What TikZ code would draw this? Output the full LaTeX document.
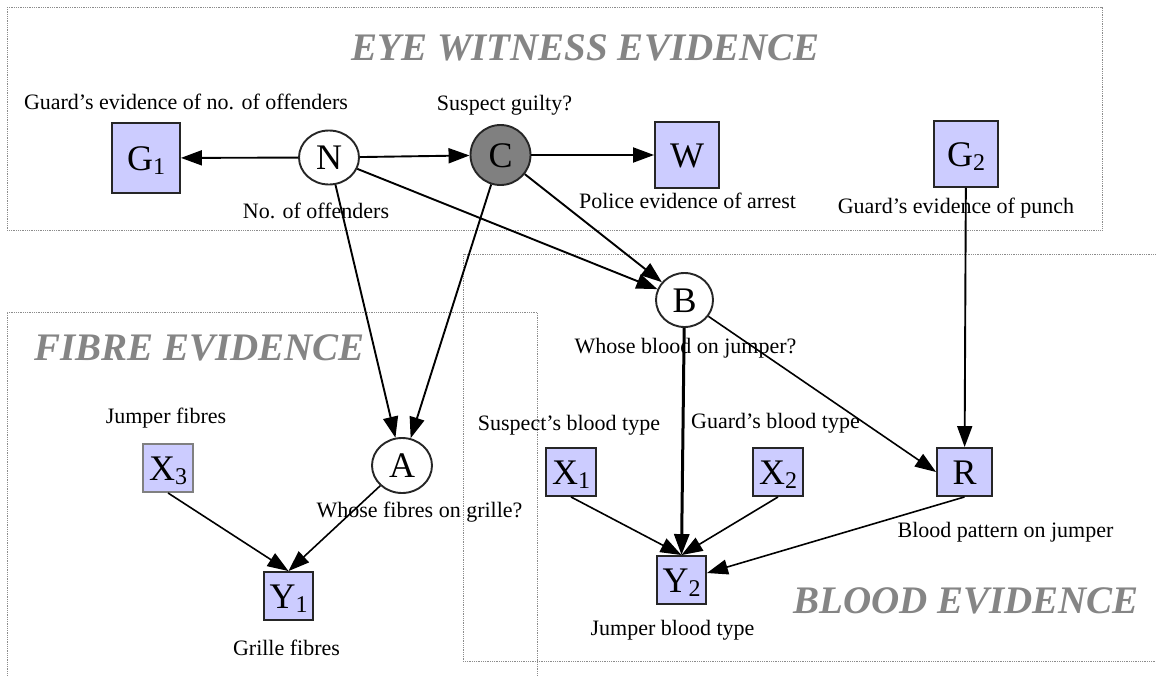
\documentclass[tikz,border=0pt]{standalone}
\usepackage{fontspec}
\setmainfont{Liberation Serif}
\usetikzlibrary{arrows.meta,shapes.geometric}

\definecolor{obsfill}{HTML}{CCCCFF}
\definecolor{cgray}{HTML}{808080}
\definecolor{titlegray}{HTML}{858585}
\definecolor{framegray}{HTML}{8C8C8C}

% lowered, smaller index after a node letter
\newcommand\lowsub[1]{\raisebox{-4pt}{\fontsize{24}{24}\selectfont #1}}

\tikzset{
  lbl/.style={anchor=base, inner sep=0pt, font=\fontsize{22}{26}\selectfont},
  grouptitle/.style={anchor=base, inner sep=0pt, text=titlegray,
    font=\fontsize{39}{44}\selectfont\bfseries\itshape},
  frame/.style={draw=framegray, densely dotted, line width=0.8pt},
  var/.style={inner sep=0pt, line width=1.9pt, draw=black!85,
    font=\fontsize{36}{36}\selectfont, text height=24pt, text depth=0pt},
  obs/.style={var, rectangle, fill=obsfill},
  hid/.style={var, ellipse, fill=white},
  link/.style={-{Triangle[length=21pt,width=15pt]}, line width=1.9pt},
  thinlink/.style={link, line width=1.6pt},
}

\begin{document}
\begin{tikzpicture}[x=1pt,y=-1pt]
\useasboundingbox (0,0) rectangle (1156,675);
\fill[white] (0,0) rectangle (1156,675);

% evidence groups
\draw[frame] (7,7) rectangle (1102,230);
\draw[frame] (7,690) -- (7,312) -- (537,312) -- (537,690);
\draw[frame] (1170,254) -- (463,254) -- (463,661) -- (1170,661);

\node[grouptitle] (t1) at (585.5,60) {EYE WITNESS EVIDENCE};
\node[grouptitle] (t2) at (199.5,360) {FIBRE EVIDENCE};
\node[grouptitle] (t3) at (966,613) {BLOOD EVIDENCE};

% variable descriptions
\node[lbl] (lG1) at (186,109) {Guard’s evidence of no. of offenders};
\node[lbl] (lN)  at (316,218) {No. of offenders};
\node[lbl] (lC)  at (504.5,110) {Suspect guilty?};
\node[lbl] (lW)  at (687.5,208) {Police evidence of arrest};
\node[lbl] (lG2) at (956,213) {Guard’s evidence of punch};
\node[lbl] (lB)  at (685.5,353) {Whose blood on jumper?};
\node[lbl] (lX3) at (166,423) {Jumper fibres};
\node[lbl] (lA)  at (419.5,517) {Whose fibres on grille?};
\node[lbl] (lY1) at (286.5,655) {Grille fibres};
\node[lbl] (lX1) at (569,430) {Suspect’s blood type};
\node[lbl] (lX2) at (775.5,428) {Guard’s blood type};
\node[lbl] (lY2) at (672.5,635) {Jumper blood type};
\node[lbl] (lR)  at (1005.5,537) {Blood pattern on jumper};

% variables
\node[obs, minimum width=68pt, minimum height=70pt] (G1) at (146,158) {G\lowsub{1}};
\node[hid, minimum width=60pt, minimum height=54pt] (N) at (329,157.5) {N};
\node[hid, fill=cgray, minimum width=60pt, minimum height=60pt] (C) at (500.5,155) {C};
\node[obs, minimum width=64pt, minimum height=66pt] (W) at (687,155) {W};
\node[obs, minimum width=64pt, minimum height=66pt] (G2) at (966,154) {G\lowsub{2}};
\node[hid, minimum width=57pt, minimum height=54pt] (B) at (684.5,300) {B};
\node[hid, minimum width=60pt, minimum height=55pt] (A) at (402,465.5) {A};
\node[obs, draw=gray, minimum width=50pt, minimum height=48pt] (X3) at (168,468) {X\lowsub{3}};
\node[obs, minimum width=49pt, minimum height=48pt] (Y1) at (288.5,596) {Y\lowsub{1}};
\node[obs, minimum width=50pt, minimum height=48pt] (X1) at (571,472) {X\lowsub{1}};
\node[obs, minimum width=50pt, minimum height=48pt] (X2) at (778,472) {X\lowsub{2}};
\node[obs, minimum width=49pt, minimum height=48pt] (Y2) at (681.5,580) {Y\lowsub{2}};
\node[obs, minimum width=55pt, minimum height=48pt] (R) at (964.5,472) {R};

% dependencies
\draw[link] (N) -- (G1);
\draw[link] (N) -- (C);
\draw[link] (C) -- (W);
\draw[link] (N) -- (B);
\draw[link] (C) -- (B);
\draw[link] (N) -- (A);
\draw[link] (C) -- (A);
\draw[thinlink] (A) -- (Y1.north);
\draw[thinlink] (X3.south) -- (Y1.north);
\draw[link, line width=3pt] (B) -- (Y2.north);
\draw[thinlink] (B) -- (R.west);
\draw[link] (G2) -- (R);
\draw[thinlink] (X1.south) -- (Y2.north);
\draw[thinlink] (X2.south) -- (Y2.north);
\draw[thinlink] (R.south) -- ([yshift=7pt]Y2.east);
\end{tikzpicture}
\end{document}
